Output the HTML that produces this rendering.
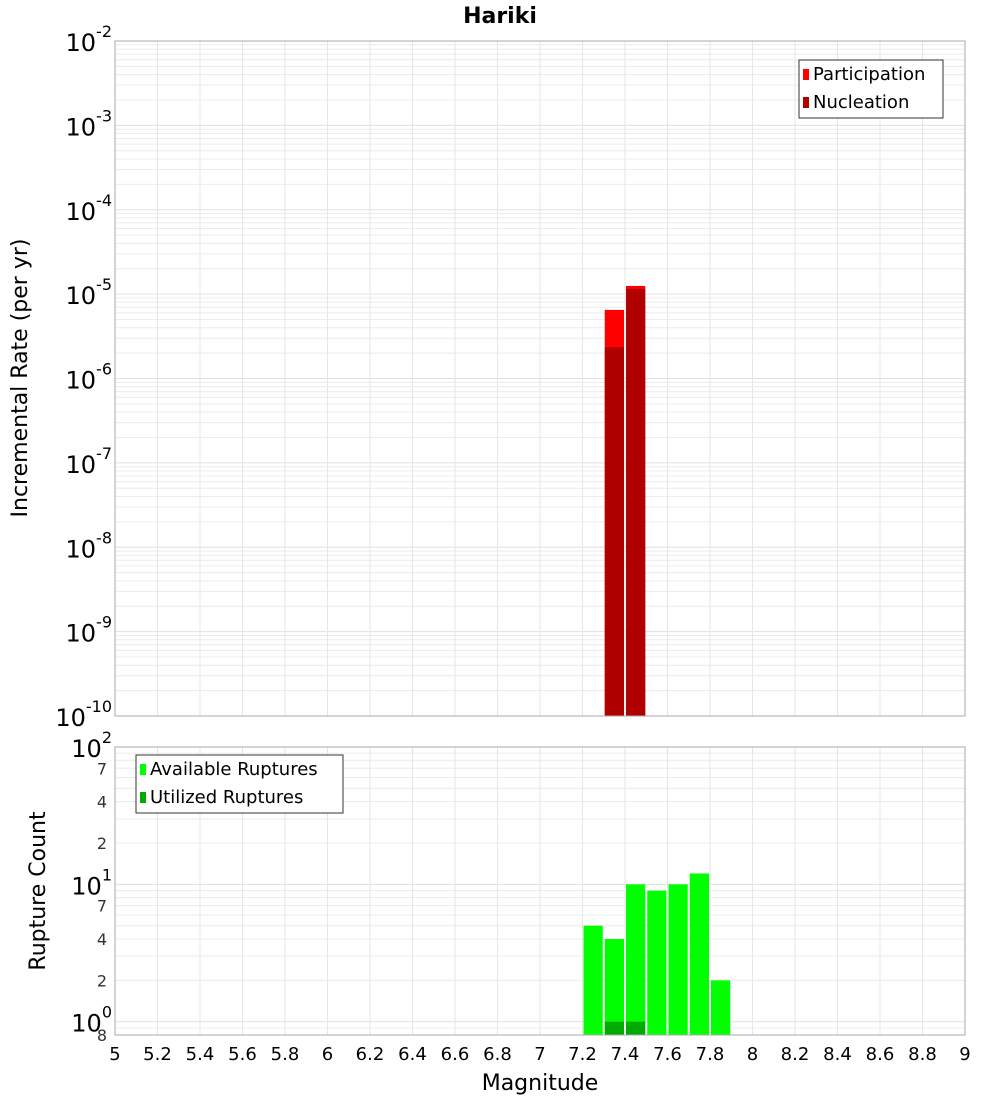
<!DOCTYPE html>
<html><head><meta charset="utf-8"><style>
body{margin:0;background:#fff}
svg{display:block;font-family:"DejaVu Sans","Liberation Sans",sans-serif}
</style></head><body>
<svg id="chart" width="1000" height="1100">
<text x="500" y="23" text-anchor="middle" font-size="22" font-weight="bold">Hariki</text>
<g id="topplot"></g>
<g id="botplot"></g>
<text transform="translate(27,378) rotate(-90)" text-anchor="middle" font-size="22">Incremental Rate (per yr)</text>
<text transform="translate(45,891) rotate(-90)" text-anchor="middle" font-size="22">Rupture Count</text>
<text x="540" y="1090" text-anchor="middle" font-size="22">Magnitude</text>
</svg>
<script>
const binStarts=[7.3,7.4];
const participation=[6.5e-6,1.25e-5];
const nucleation=[2.35e-6,1.15e-5];
const countBins=[7.2,7.3,7.4,7.5,7.6,7.7,7.8];
const available=[5,4,10,9,10,12,2];
const utilized=[0,1,1,0,0,0,0];
const xTicks=[5,5.2,5.4,5.6,5.8,6,6.2,6.4,6.6,6.8,7,7.2,7.4,7.6,7.8,8,8.2,8.4,8.6,8.8,9];
const topExps=[-2,-3,-4,-5,-6,-7,-8,-9,-10];
const botTicks=[2,4,7,20,40,70];

const NS="http://www.w3.org/2000/svg";
const X0=115,X1=965;
const xs=m=>X0+(m-5)/4*(X1-X0);
const TY0=41,TY1=716;
const ty=v=>TY0+(-2-Math.log10(v))/8*(TY1-TY0);
const BY0=747,BY1=1035;
const by=v=>BY0+(2-Math.log10(v))/(2-Math.log10(0.8))*(BY1-BY0);
function mk(tag,attrs,parent,txt){const e=document.createElementNS(NS,tag);for(const k in attrs)e.setAttribute(k,attrs[k]);if(txt!==undefined)e.textContent=txt;parent.appendChild(e);return e;}
const gTop=document.getElementById('topplot'),gBot=document.getElementById('botplot');

function grid(g,y0,y1,yf,lo,hi){
  mk('rect',{x:X0,y:y0,width:X1-X0,height:y1-y0,fill:'#fff',stroke:'none'},g);
  for(let e=lo;e<hi;e++)for(let k=1;k<10;k++){const v=k*Math.pow(10,e);const y=yf(v);if(y<y0-0.5||y>y1+0.5)continue;
    const l=mk('line',{x1:X0,x2:X1,y1:y,y2:y,stroke:k==1?'#e0e0e0':'#ececec','stroke-width':1},g);
    
    }
  xTicks.forEach(m=>{const l=mk('line',{x1:xs(m),x2:xs(m),y1:y0,y2:y1,stroke:'#e6e6e6','stroke-width':1},g);
    
    });
}
grid(gTop,TY0,TY1,ty,-10,-2);
grid(gBot,BY0,BY1,by,-1,2);

binStarts.forEach((b,i)=>{
  const x=xs(b)+1,w=xs(b+0.1)-xs(b)-2;
  const p=mk('rect',{x:x,y:ty(participation[i]),width:w,height:TY1-ty(participation[i]),fill:'#ff0000'},gTop);
  
  
  const n=mk('rect',{x:x,y:ty(nucleation[i]),width:w,height:TY1-ty(nucleation[i]),fill:'#b00000'},gTop);
  
  
});
countBins.forEach((b,i)=>{
  const x=xs(b)+1,w=xs(b+0.1)-xs(b)-2;
  const a=mk('rect',{x:x,y:by(available[i]),width:w,height:BY1-by(available[i]),fill:'#00ff00'},gBot);
  
  
  if(utilized[i]>0){const u=mk('rect',{x:x,y:by(utilized[i]),width:w,height:BY1-by(utilized[i]),fill:'#00aa00'},gBot);
  
  }
});
mk('rect',{x:X0,y:TY0,width:X1-X0,height:TY1-TY0,fill:'none',stroke:'#aaa'},gTop);
mk('rect',{x:X0,y:BY0,width:X1-X0,height:BY1-BY0,fill:'none',stroke:'#aaa'},gBot);

topExps.forEach(e=>{const y=ty(Math.pow(10,e));
  const t=mk('text',{x:112,y:y+10,'text-anchor':'end','font-size':24},gTop);
  
  
  mk('tspan',{},t,'10');mk('tspan',{dy:-14,'font-size':16},t,String(e));});
[[100,'2'],[10,'1'],[1,'0']].forEach(([v,e])=>{const y=by(v);
  const t=mk('text',{x:112,y:y+10,'text-anchor':'end','font-size':24},gBot);
  
  
  mk('tspan',{},t,'10');mk('tspan',{dy:-14,'font-size':16},t,e);});
botTicks.concat([0.8]).forEach(v=>{const y=by(v);
  const t=mk('text',{x:107,y:y+6,'text-anchor':'end','font-size':16,fill:'#333'},gBot,v<1?'8':String(v)[0]);
  
  });
xTicks.forEach(m=>{const t=mk('text',{x:xs(m),y:1060,'text-anchor':'middle','font-size':18},gBot,String(m));
  
  });

function legend(g,x,y,w,items){
  const r=mk('rect',{x:x,y:y,width:w,height:58,fill:'#fff',stroke:'#333'},g);
  
  
  items.forEach(([lab,c],i)=>{
    const s=mk('rect',{x:x+4,y:y+9+i*28,width:6,height:11,fill:c},g);
    
    
    const t=mk('text',{x:x+14,y:y+20+i*28,'font-size':18},g,lab);
    
    });
}
legend(gTop,799,60,144,[['Participation','#ff0000'],['Nucleation','#b00000']]);
legend(gBot,136,755,207,[['Available Ruptures','#00ff00'],['Utilized Ruptures','#00aa00']]);
</script>
</body></html>
